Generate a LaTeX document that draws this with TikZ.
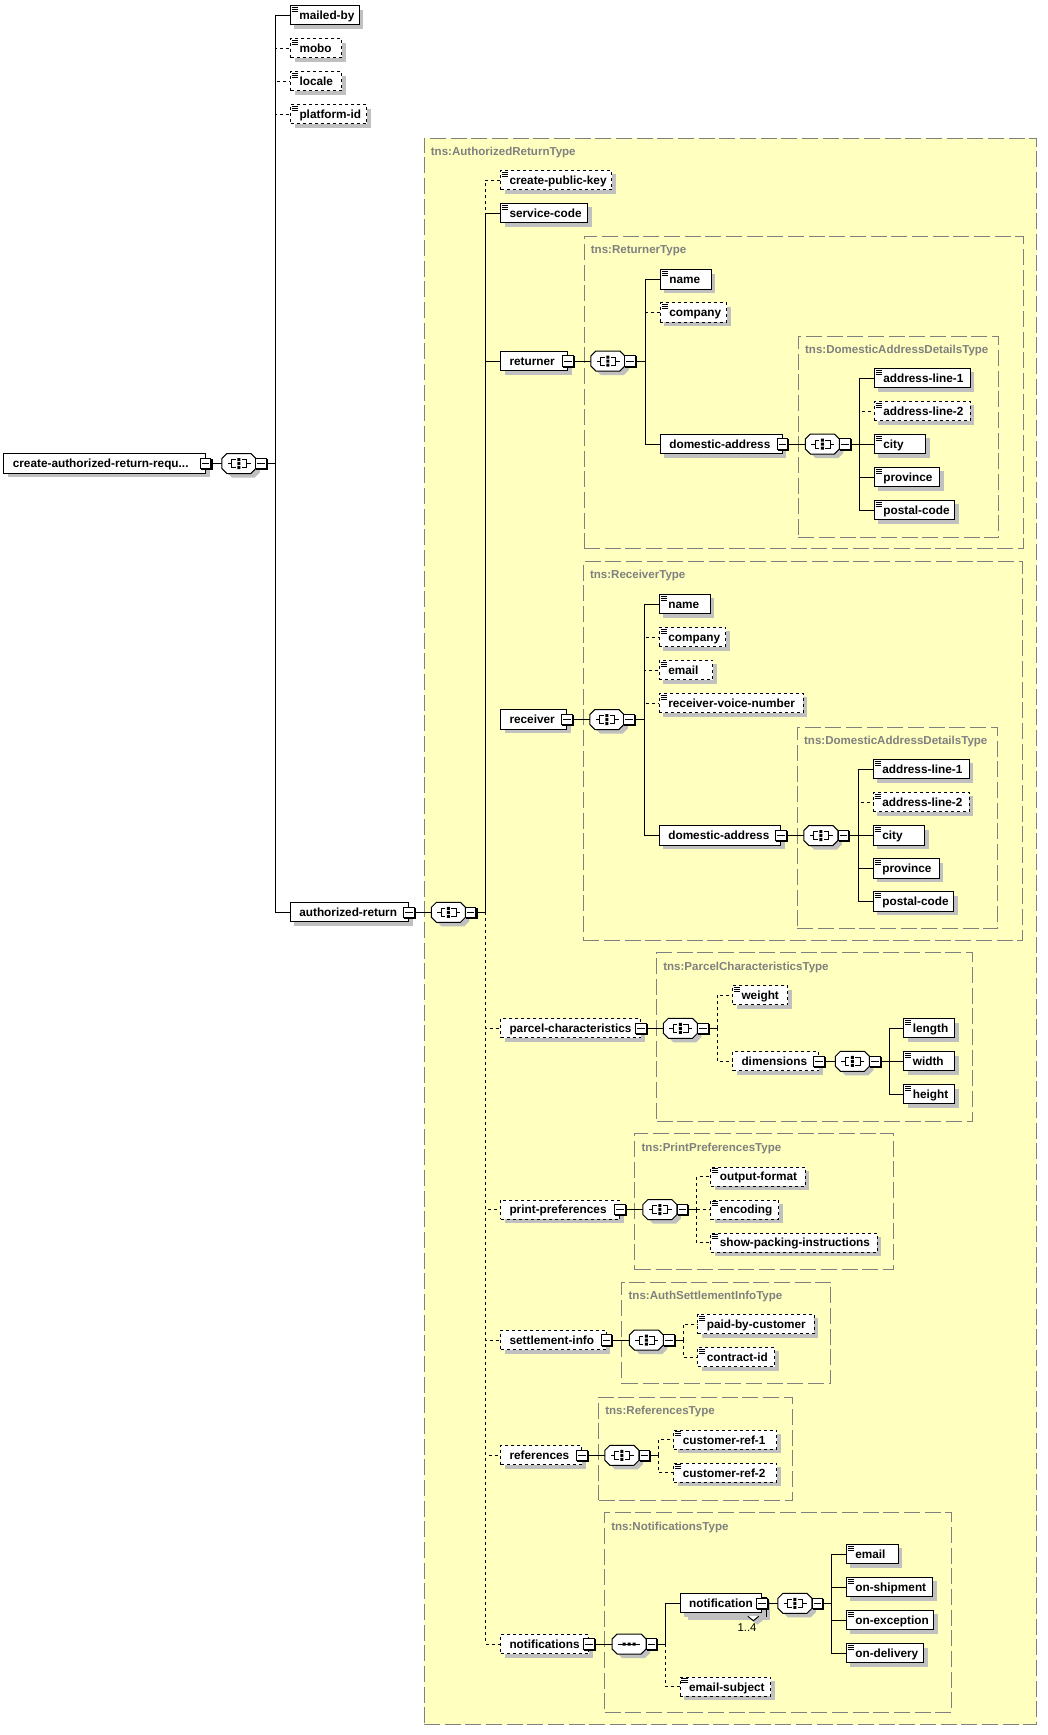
\documentclass[tikz,border=0pt]{standalone}
\usepackage{fontspec}
\setmainfont{Liberation Sans}
\usetikzlibrary{shadows,calc}
\definecolor{typefill}{HTML}{FFFFC0}
\definecolor{typeline}{HTML}{808080}
\definecolor{shadowgray}{HTML}{C0C0C0}
\tikzset{
  elbox/.style={draw=black,fill=white,line width=.75pt,inner sep=0pt,minimum height=14.4pt,
    anchor=west,text height=7.6pt,text depth=1.1pt,font=\fontsize{8.85pt}{10pt}\selectfont\bfseries,
    general shadow={shadow xshift=3pt,shadow yshift=-3pt,fill=shadowgray,draw=none}},
  optbox/.style={dash pattern=on 2.25pt off 2.25pt},
  expander/.style={draw=black,fill=white,line width=.75pt,inner sep=0pt,minimum size=7.9pt,
    general shadow={shadow xshift=.8pt,shadow yshift=-.8pt,fill=black,draw=black,line width=.75pt}},
  comphold/.style={inner sep=0pt,minimum width=25.5pt,minimum height=14.6pt},
  typeframe/.style={draw=typeline,fill=typefill,line width=.75pt,dash pattern=on 12pt off 3.5pt,
    inner sep=0pt,anchor=north west},
  typelabel/.style={text=typeline,inner sep=0pt,anchor=west,font=\fontsize{8.66pt}{10pt}\selectfont\bfseries},
  link/.style={draw=black,line width=.75pt},
  optlink/.style={draw=black,line width=.75pt,dash pattern=on 2.25pt off 2.25pt},
  occurs/.style={inner sep=0pt,font=\fontsize{8.5pt}{10pt}\selectfont}
}
\newcommand\elembox[6][]{\pgfmathsetlengthmacro\boxw{(#4-#3)*0.75pt}%
  \node[elbox,#1,minimum width=\boxw] (#2) at (#3-0.67,#5) {\makebox[\boxw][l]{\hspace*{6.75pt}#6}};}
\newcommand\typebox[6]{\pgfmathsetlengthmacro\boxw{(#4-#2)*0.75pt}\pgfmathsetlengthmacro\boxh{(#5-#3)*0.75pt}%
  \node[typeframe,minimum width=\boxw,minimum height=\boxh] (#1) at (#2-0.67,#3) {};
  \node[typelabel] (#1l) at (#2+6.33,#3+15) {#6};}
\begin{document}
\begin{tikzpicture}[x=0.75pt,y=-0.75pt]
\useasboundingbox (0,0) rectangle (1048,1735);
\typebox{tAR}{424.3}{137.5}{1037}{1724}{tns:AuthorizedReturnType}
\typebox{tRet}{584.3}{236}{1023.7}{548.4}{tns:ReturnerType}
\typebox{tRetA}{798.5}{335.5}{998.8}{537.3}{tns:DomesticAddressDetailsType}
\typebox{tRec}{583.4}{561}{1022.6}{940}{tns:ReceiverType}
\typebox{tRecA}{797.5}{726.5}{997.7}{928}{tns:DomesticAddressDetailsType}
\typebox{tPar}{656.7}{952.3}{972.8}{1121}{tns:ParcelCharacteristicsType}
\typebox{tPri}{635}{1133}{894}{1269}{tns:PrintPreferencesType}
\typebox{tSet}{622}{1281.5}{831}{1383}{tns:AuthSettlementInfoType}
\typebox{tRef}{598.7}{1396.5}{792.4}{1499.6}{tns:ReferencesType}
\typebox{tNot}{604.7}{1512}{951.7}{1712}{tns:NotificationsType}
\coordinate (trMain) at (275,463.5);
\coordinate (trAR) at (485.5,912.3);
\coordinate (trRet) at (645,361);
\coordinate (trRetA) at (859,444);
\coordinate (trRec) at (644,719.5);
\coordinate (trRecA) at (858,835.5);
\coordinate (trPar) at (717,1028.3);
\coordinate (trDim) at (889,1061.3);
\coordinate (trPri) at (696.5,1209.6);
\coordinate (trSet) at (683,1340);
\coordinate (trRef) at (658.5,1455.3);
\coordinate (trNot) at (665.3,1644);
\coordinate (trNoti) at (831.7,1603.3);
\elembox{main}{4}{205.7}{463.5}{create-authorized-return-requ...}
\elembox{mailed}{290.5}{359.5}{15.3}{mailed-by}
\elembox[optbox]{mobo}{290.7}{342}{48.3}{mobo}
\elembox[optbox]{locale}{290.7}{342}{81.3}{locale}
\elembox[optbox]{platform}{290.7}{367}{114.3}{platform-id}
\elembox{authret}{290.5}{409}{912.3}{authorized-return}
\elembox[optbox]{cpk}{500.7}{612}{180}{create-public-key}
\elembox{svc}{500.7}{587.7}{213}{service-code}
\elembox{returner}{500.7}{568}{361}{returner}
\elembox{retname}{660.5}{711.6}{279.5}{name}
\elembox[optbox]{retco}{660.5}{727}{312.5}{company}
\elembox{retaddr}{660.5}{782.5}{444}{domestic-address}
\elembox{retal}{874.5}{970.6}{378}{address-line-1}
\elembox[optbox]{retam}{874.5}{970.6}{411}{address-line-2}
\elembox{retcity}{874.5}{926}{444}{city}
\elembox{retprov}{874.5}{940}{477}{province}
\elembox{retpost}{874.5}{955}{510}{postal-code}
\elembox{receiver}{500.7}{567}{719.5}{receiver}
\elembox{recname}{659.5}{710.5}{604}{name}
\elembox[optbox]{recco}{659.5}{726}{637}{company}
\elembox[optbox]{recmail}{659.5}{713}{670}{email}
\elembox[optbox]{recvoice}{659.5}{803.5}{703}{receiver-voice-number}
\elembox{recaddr}{659.5}{781}{835.5}{domestic-address}
\elembox{recal}{873.5}{969.5}{769}{address-line-1}
\elembox[optbox]{recam}{873.5}{969.5}{802}{address-line-2}
\elembox{reccity}{873.5}{925}{835.5}{city}
\elembox{recprov}{873.5}{939.5}{868.5}{province}
\elembox{recpost}{873.5}{954}{901.5}{postal-code}
\elembox[optbox]{parcel}{500.7}{641}{1028.3}{parcel-characteristics}
\elembox[optbox]{weight}{732.7}{788}{995.3}{weight}
\elembox[optbox]{dims}{732.7}{819}{1061.3}{dimensions}
\elembox{length}{904}{955}{1028.3}{length}
\elembox{width}{904}{955}{1061.3}{width}
\elembox{height}{904}{955}{1094.3}{height}
\elembox[optbox]{print}{500.7}{620}{1209.6}{print-preferences}
\elembox[optbox]{outfmt}{711}{805.6}{1176.6}{output-format}
\elembox[optbox]{enc}{711}{779}{1209.6}{encoding}
\elembox[optbox]{packing}{711}{877.6}{1242.6}{show-packing-instructions}
\elembox[optbox]{settle}{500.7}{606.5}{1340}{settlement-info}
\elembox[optbox]{paidby}{698}{814.5}{1324}{paid-by-customer}
\elembox[optbox]{contract}{698}{774.7}{1357}{contract-id}
\elembox[optbox]{refs}{500.7}{582}{1455.3}{references}
\elembox[optbox]{cref1}{674}{777}{1439.7}{customer-ref-1}
\elembox[optbox]{cref2}{674}{777}{1472.7}{customer-ref-2}
\elembox[optbox]{notifs}{500.7}{589}{1644}{notifications}
\elembox{notiback}{684.5}{766.5}{1606.6}{}
\elembox{noti}{680.3}{762}{1603.3}{notification}
\elembox[optbox]{subject}{680.3}{771}{1686.7}{email-subject}
\elembox{nemail}{846.5}{898.6}{1554}{email}
\elembox{nship}{846.5}{933}{1587}{on-shipment}
\elembox{nexc}{846.5}{934}{1620}{on-exception}
\elembox{ndel}{846.5}{924}{1653.3}{on-delivery}
% documentation marks
\foreach \n in {mailed,mobo,locale,platform,cpk,svc,retname,retco,retal,retam,retcity,retprov,retpost,
  recname,recco,recmail,recvoice,recal,recam,reccity,recprov,recpost,weight,length,width,height,
  outfmt,enc,packing,paidby,contract,cref1,cref2,subject,nemail,nship,nexc,ndel}{
  \begin{scope}[shift={(\n.north west)}]
   \fill[white] (1,1.2) rectangle (9,7.5);
   \draw[line width=.6pt] (1.8,2)--(8,2) (1.8,4)--(8,4) (1.8,6)--(8,6);
  \end{scope}}
% occurrence mark
\coordinate (notchA) at ($(notiback.south east)+(-19,-0.5)$);
\coordinate (notchB) at ($(notiback.south east)+(-8,-0.5)$);
\coordinate (notchC) at ($(notiback.south east)+(-13.5,4)$);
\fill[shadowgray] ($(notchA)+(4,4)$)--($(notchB)+(4,4)$)--($(notchC)+(4,4)$)--cycle;
\fill[white] (notchA)--(notchC)--(notchB)--cycle;
\draw[link] (notchA)--(notchC)--(notchB);
\node[occurs] (occ) at (747,1628) {1..4};
% connectors
\foreach \c in {mobo,locale,platform} \draw[optlink] (trMain) |- (\c.west);
\foreach \c in {mailed,authret} \draw[link] (trMain) |- (\c.west);
\foreach \c in {cpk,parcel,print,settle,refs,notifs} \draw[optlink] (trAR) |- (\c.west);
\foreach \c in {svc,returner} \draw[link] (trAR) |- (\c.west);
\draw[optlink] (trRet) |- (retco.west);
\foreach \c in {retname,retaddr} \draw[link] (trRet) |- (\c.west);
\draw[optlink] (trRetA) |- (retam.west);
\foreach \c in {retal,retcity,retprov,retpost} \draw[link] (trRetA) |- (\c.west);
\foreach \c in {recco,recmail,recvoice} \draw[optlink] (trRec) |- (\c.west);
\foreach \c in {recname,recaddr} \draw[link] (trRec) |- (\c.west);
\draw[optlink] (trRecA) |- (recam.west);
\foreach \c in {recal,reccity,recprov,recpost} \draw[link] (trRecA) |- (\c.west);
\foreach \c in {weight,dims} \draw[optlink] (trPar) |- (\c.west);
\foreach \c in {length,width,height} \draw[link] (trDim) |- (\c.west);
\foreach \c in {outfmt,enc,packing} \draw[optlink] (trPri) |- (\c.west);
\foreach \c in {paidby,contract} \draw[optlink] (trSet) |- (\c.west);
\foreach \c in {cref1,cref2} \draw[optlink] (trRef) |- (\c.west);
\draw[optlink] (trNot) |- (subject.west);
\draw[link] (trNot) |- (noti.west);
\foreach \c in {nemail,nship,nexc,ndel} \draw[link] (trNoti) |- (\c.west);
% expanders and compositors
\foreach \n/\r/\y/\cx/\px/\t/\k in {
  main/205.7/463.5/238.5/261/trMain/a,
  authret/409/912.3/448/470.7/trAR/a,
  returner/568/361/607.5/630/trRet/a,
  retaddr/782.5/444/822/845/trRetA/a,
  receiver/567/719.5/606.5/629/trRec/a,
  recaddr/781/835.5/820.5/843.5/trRecA/a,
  parcel/641/1028.3/680/703/trPar/a,
  dims/819/1061.3/852/875/trDim/a,
  print/620/1209.6/659.5/682.5/trPri/a,
  settle/606.5/1340/646/669/trSet/a,
  refs/582/1455.3/621.5/644.5/trRef/a,
  notifs/589/1644/628.7/651.3/trNot/s,
  noti/762/1603.3/794.5/817.5/trNoti/a}{
  \node[comphold] (\n c) at (\cx+.4,\y) {};
  \draw[link] (\n c.east)--(\t);
  \draw[link] (\r,\y)--(\n c.west);
  \begin{scope}[shift={(\n c.center)}]
   \fill[shadowgray] (-12,-6)--(-7,-10)--(16,-6)--(21,-1)--(21,9)--(16,14)--(-7,14)--(-12,9)--cycle;
   \draw[line width=.75pt,fill=white] (-17,-5)--(-12,-10)--(12,-10)--(17,-5)--(17,5)--(12,10)--(-12,10)--(-17,5)--cycle;
   \if\k a
     \draw[line width=.75pt] (-11,0)--(-7,0) (-3,-4)--(-7,-4)--(-7,4)--(-3,4) (3,-4)--(8,-4)--(8,4)--(3,4) (8,0)--(12,0);
     \fill[black] (-1.5,-5.5) rectangle (1.5,-2.5) (-1.5,-1.5) rectangle (1.5,1.5) (-1.5,2.5) rectangle (1.5,5.5);
   \else
     \draw[line width=.75pt] (-11,0)--(11,0);
     \fill[black] (-6.5,-1.5) rectangle (-3.5,1.5) (-1.5,-1.5) rectangle (1.5,1.5) (3.5,-1.5) rectangle (6.5,1.5);
   \fi
  \end{scope}
  \node[expander] (\n x) at (\r,\y) {};
  \node[expander] (\n y) at (\px,\y) {};
  \draw[line width=.75pt] ([xshift=1.5pt]\n x.west)--([xshift=-1.5pt]\n x.east);
  \draw[line width=.75pt] ([xshift=1.5pt]\n y.west)--([xshift=-1.5pt]\n y.east);
}
\end{tikzpicture}
\end{document}
